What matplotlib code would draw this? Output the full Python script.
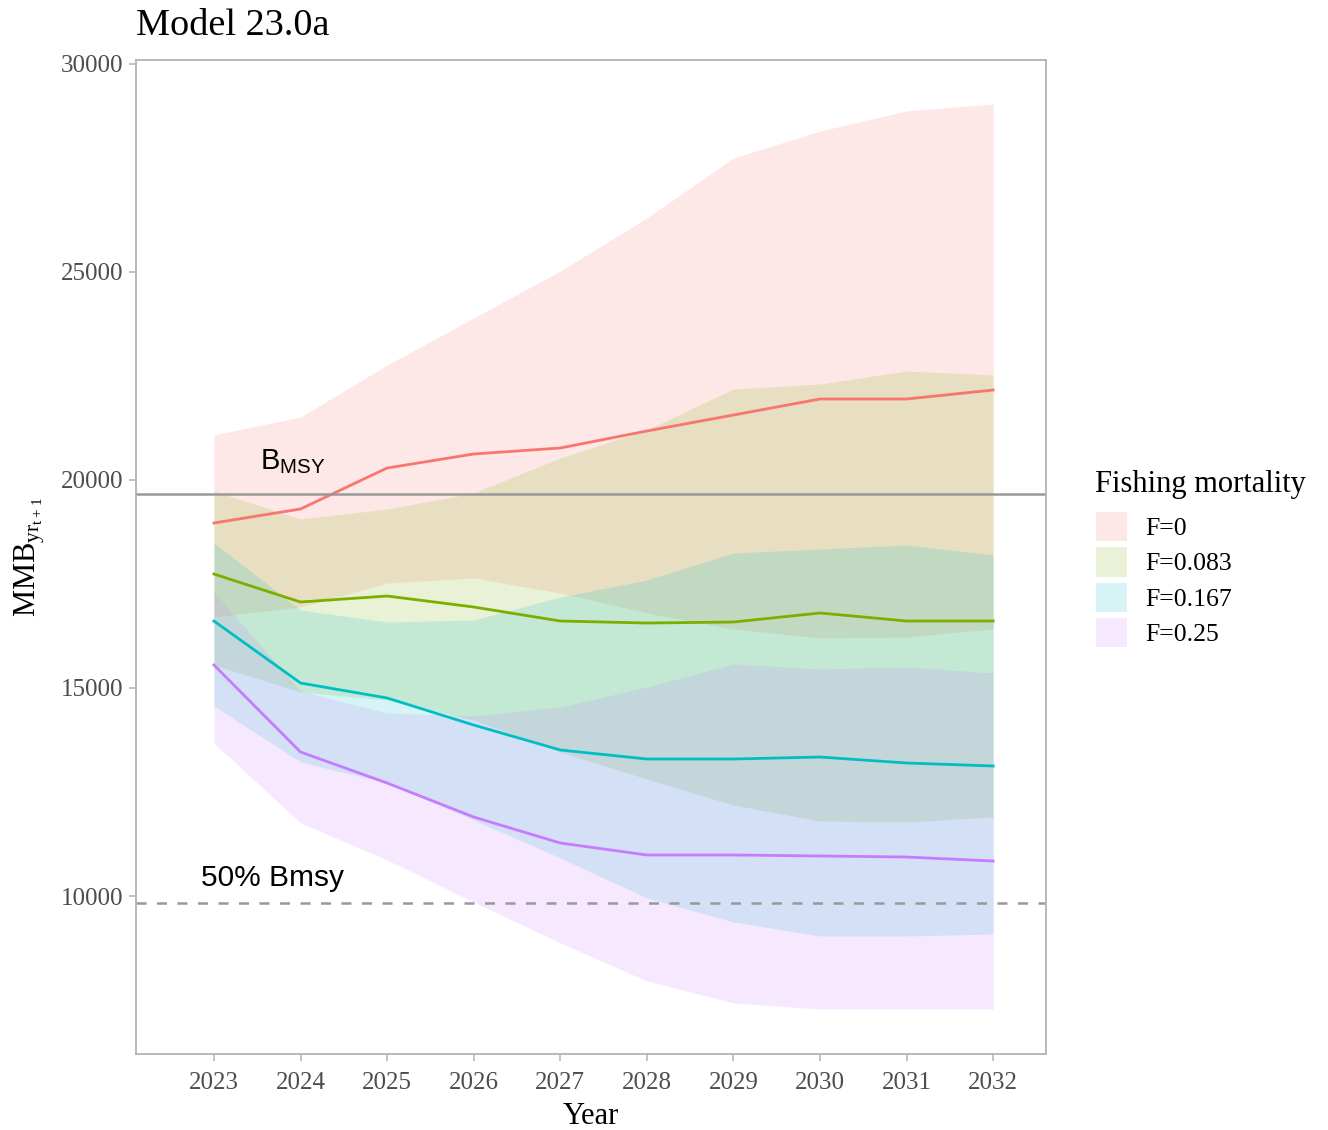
import matplotlib
matplotlib.use("Agg")
import matplotlib.pyplot as plt
from matplotlib.patches import Patch
import numpy as np

years = [2023, 2024, 2025, 2026, 2027, 2028, 2029, 2030, 2031, 2032]
labels = ["F=0", "F=0.083", "F=0.167", "F=0.25"]
colors = ["#F8766D", "#7CAE00", "#00BFC4", "#C77CFF"]

# median projected MMB per scenario
mmb_f0 = [18966, 19303, 20288, 20625, 20769, 21178, 21562, 21947, 21947, 22163]
mmb_f083 = [17740, 17067, 17211, 16947, 16610, 16562, 16586, 16803, 16610, 16610]
mmb_f167 = [16610, 15120, 14760, 14110, 13510, 13293, 13293, 13341, 13197, 13125]
mmb_f25 = [15553, 13461, 12716, 11899, 11274, 10986, 10986, 10962, 10937, 10841]

# upper / lower bounds
hi_f0 = [21082, 21514, 22764, 23894, 25024, 26298, 27740, 28389, 28870, 29038]
lo_f0 = [16707, 16947, 17524, 17644, 17284, 16803, 16418, 16202, 16226, 16418]
hi_f083 = [19735, 19062, 19303, 19687, 20529, 21202, 22187, 22307, 22620, 22524]
lo_f083 = [15553, 14904, 14711, 14231, 13461, 12812, 12187, 11803, 11779, 11899]
hi_f167 = [18485, 16875, 16586, 16634, 17187, 17596, 18245, 18341, 18437, 18197]
lo_f167 = [14567, 13221, 12716, 11827, 10913, 9952, 9375, 9038, 9038, 9087]
hi_f25 = [17308, 14928, 14399, 14327, 14543, 15024, 15577, 15457, 15505, 15360]
lo_f25 = [13678, 11755, 10865, 9856, 8870, 7957, 7428, 7284, 7284, 7284]

bmsy = 19660

mids = [mmb_f0, mmb_f083, mmb_f167, mmb_f25]
his = [hi_f0, hi_f083, hi_f167, hi_f25]
los = [lo_f0, lo_f083, lo_f167, lo_f25]

serif = "Liberation Serif"
sans = "Liberation Sans"

fig = plt.figure(figsize=(13.28, 11.3), dpi=100)
ax = fig.add_axes([136/1328, 1-1054/1130, 910/1328, 994/1130])

alpha = 0.16
for hi, lo, c in zip(his, los, colors):
    ax.fill_between(years, lo, hi, color=c, alpha=alpha, linewidth=0)
for m, c in zip(mids, colors):
    ax.plot(years, m, color=c, lw=2.0)

ax.axhline(bmsy, color="#999999", lw=1.8)
ax.axhline(bmsy/2, color="#999999", lw=1.8, ls=(0, (4, 4.2)))

ax.text(2023.53, 20250, r"$\mathregular{B_{MSY}}$", fontsize=21, family=sans)
ax.text(2022.85, 10250, "50% Bmsy", fontsize=21.5, family=sans)

ax.set_xlim(2022.1, 2032.61)
ax.set_ylim(6202, 30096)
ax.set_xticks(years)
ax.set_yticks([10000, 15000, 20000, 25000, 30000])
for lbl in ax.get_xticklabels() + ax.get_yticklabels():
    lbl.set_family(serif)
    lbl.set_fontsize(18)
    lbl.set_color("#4D4D4D")
ax.tick_params(length=5, width=1.1, color="#B3B3B3")
ax.tick_params(axis="x", pad=8)
ax.tick_params(axis="y", pad=4)
for s in ax.spines.values():
    s.set_color("#B3B3B3")
    s.set_linewidth(1.3)

ax.set_xlabel("Year", family=serif, fontsize=22, labelpad=6)
ax.set_ylabel(r"$\mathregular{MMB_{yr_{t+1}}}$", family=serif, fontsize=22, labelpad=10)

fig.text(136/1328, 1-35/1130, "Model 23.0a", family=serif, fontsize=27.5, va="baseline")

# legend title drawn separately so the gap to the keys can be set
fig.text(1095/1328, 1-492/1130, "Fishing mortality", family=serif, fontsize=22, va="baseline")
handles = [Patch(facecolor=c, alpha=alpha, edgecolor="none") for c in colors]
leg = fig.legend(handles, labels, loc="upper left", bbox_to_anchor=(1096/1328, 1-512/1130),
                 frameon=False, prop={"family": serif, "size": 18.5},
                 handlelength=1.2, handleheight=1.38, labelspacing=0.23, handletextpad=0.7,
                 borderpad=0, borderaxespad=0)

fig.savefig("out.png", dpi=100)
